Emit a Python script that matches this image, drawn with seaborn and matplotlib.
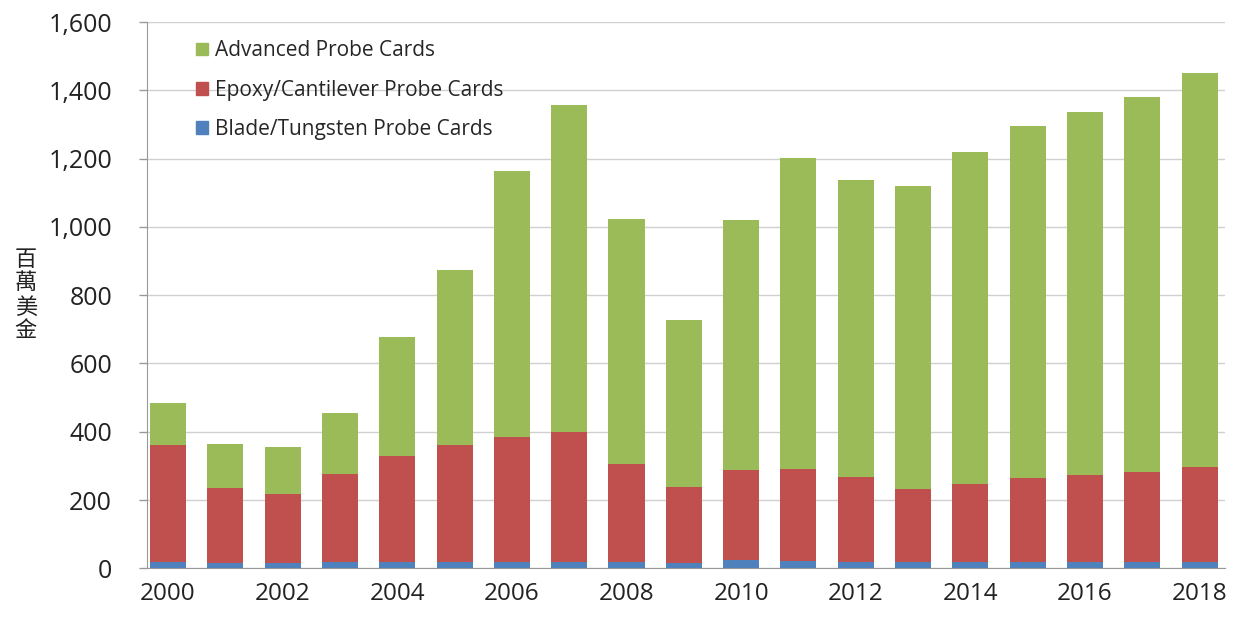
import numpy as np
import pandas as pd
import seaborn as sns
import matplotlib.pyplot as plt
from matplotlib.patches import Patch

years = list(range(2000, 2019))
blade = [18, 15, 14, 17, 17, 18, 18, 18, 17, 15, 25, 20, 18, 17, 17, 18, 18, 18, 18]
epoxy = [342, 220, 204, 258, 313, 342, 367, 380, 288, 223, 263, 270, 250, 215, 230, 247, 255, 265, 279]
advanced = [125, 130, 137, 180, 347, 513, 780, 960, 717, 489, 732, 913, 869, 888, 973, 1030, 1064, 1097, 1155]

col_adv = '#9BBB59'
col_epx = '#C0504D'
col_bld = '#4F81BD'

df = pd.DataFrame({'year': [str(y) for y in years],
                   'blade': blade, 'epoxy': epoxy, 'advanced': advanced})
df['lvl2'] = df['blade'] + df['epoxy']
df['lvl3'] = df['lvl2'] + df['advanced']

sns.set_style('white')
plt.rcParams['font.family'] = ['Open Sans', 'Noto Sans CJK TC', 'DejaVu Sans']

fig = plt.figure(figsize=(12.34, 6.17), dpi=100)
ax = fig.add_axes([0.119, 0.079, 0.874, 0.885])

# stacked bars: draw cumulative totals from the top layer down
for col, c in [('lvl3', col_adv), ('lvl2', col_epx), ('blade', col_bld)]:
    sns.barplot(data=df, x='year', y=col, color=c, width=0.63, saturation=1,
                ax=ax, zorder=3, edgecolor='none')

ax.set_ylim(0, 1600)
ax.set_xlim(-0.37, 18.45)
ax.set_yticks(np.arange(0, 1601, 200))
ax.set_yticklabels([f'{v:,}' for v in range(0, 1601, 200)], fontsize=18, color='#222222')
ax.set_xticks(range(0, 19, 2))
ax.set_xticklabels([str(y) for y in years[::2]], fontsize=17.5, color='#222222')
ax.tick_params(axis='x', length=0, pad=10)
ax.tick_params(axis='y', length=6, width=1, color='#999999', direction='out', pad=19, left=True)

ax.grid(axis='y', color='#d0d0d0', linewidth=1, zorder=0)
ax.set_axisbelow(True)
for s in ['top', 'right']:
    ax.spines[s].set_visible(False)
ax.spines['left'].set_color('#999999')
ax.spines['bottom'].set_color('#999999')

ax.set_xlabel('')
ax.set_ylabel('')
fig.text(0.021, 0.522, '\n'.join('百萬美金'), fontsize=16, va='center', ha='center',
         linespacing=1.05, family=['Noto Sans CJK TC', 'DejaVu Sans'], color='#222222')

handles = [Patch(color=col_adv, label='Advanced Probe Cards'),
           Patch(color=col_epx, label='Epoxy/Cantilever Probe Cards'),
           Patch(color=col_bld, label='Blade/Tungsten Probe Cards')]
ax.legend(handles=handles, loc='upper left', bbox_to_anchor=(0.038, 0.982), frameon=False,
          fontsize=15, handlelength=0.55, handleheight=0.55, handletextpad=0.35,
          labelspacing=0.88, borderaxespad=0)

fig.savefig('out.png', dpi=100)
